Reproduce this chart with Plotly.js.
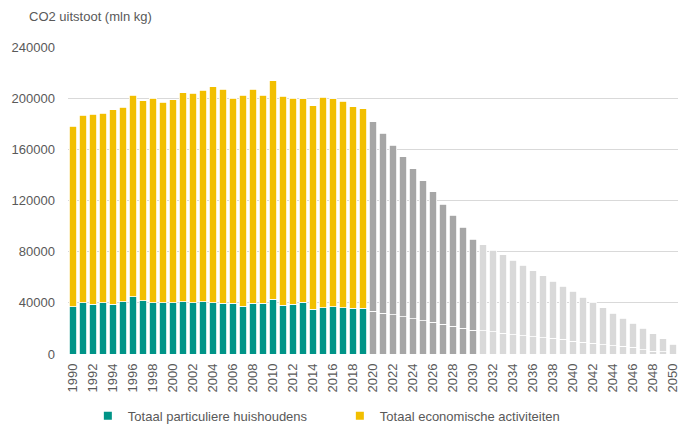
<!DOCTYPE html>
<html>
<head>
<meta charset="utf-8">
<script src="https://cdn.plot.ly/plotly-3.0.1.min.js"></script>
<style>html,body{margin:0;padding:0;background:#fff;}#chart{width:681px;height:427px;}</style>
</head>
<body>
<div id="chart"></div>
<script>
// Years 1990-2050
const years = [1990,1991,1992,1993,1994,1995,1996,1997,1998,1999,
  2000,2001,2002,2003,2004,2005,2006,2007,2008,2009,
  2010,2011,2012,2013,2014,2015,2016,2017,2018,2019,
  2020,2021,2022,2023,2024,2025,2026,2027,2028,2029,
  2030,2031,2032,2033,2034,2035,2036,2037,2038,2039,
  2040,2041,2042,2043,2044,2045,2046,2047,2048,2049,2050];

// Totaal particuliere huishoudens (mln kg CO2)
const households = [37000,40100,38800,40100,38800,40900,44800,41700,40100,40100,
  40100,40900,40100,40900,40100,39500,39500,37400,39500,39500,
  42900,38200,39000,40300,35100,36200,37000,36200,35600,35600,
  33500,32000,30700,29100,27600,26000,24700,23100,21800,20200,
  18700,18200,17400,16100,15000,14200,13500,12700,12400,11400,
  10000,9000,8500,7200,6400,5900,5100,3300,2200,1700,0];

// Totaal economische activiteiten (mln kg CO2)
const economic = [141000,146600,148700,148200,152100,151900,157600,156300,159900,156800,
  158600,163300,163600,165400,168800,167400,160500,165000,167400,162900,
  170700,163400,161000,159200,158900,164600,162500,161500,157600,156100,
  148000,140700,132600,125300,117400,109600,102000,94000,86600,78800,
  71000,67300,63900,61400,58200,55100,51600,48500,44600,41400,
  38900,35200,31600,29000,25500,21900,18800,16700,13600,10200,7700];

const seriesNames = ['Totaal particuliere huishoudens', 'Totaal economische activiteiten'];
const yTicks = [0,40000,80000,120000,160000,200000,240000];
const lastActual = 2019, lastMid = 2030;

const TEAL = '#009487', YELLOW = '#F2BF00', DARK = '#A6A6A6', LIGHT = '#D9D9D9';
function colorFor(base) {
  return years.map(y => y <= lastActual ? base : (y <= lastMid ? DARK : LIGHT));
}

const font = "'Liberation Sans', Arial, sans-serif";
const txt = '#595959';

const traces = [
  {type:'bar', x:years, y:households, name:seriesNames[0], showlegend:false,
   marker:{color:colorFor(TEAL), line:{color:'#ffffff', width:0.8}}, hoverinfo:'x+y'},
  {type:'bar', x:years, y:economic, name:seriesNames[1], showlegend:false,
   marker:{color:colorFor(YELLOW), line:{color:'#ffffff', width:0.8}}, hoverinfo:'x+y'},
  {type:'scatter', mode:'markers', x:[null], y:[null], name:seriesNames[0],
   marker:{symbol:'square', size:8, color:TEAL}},
  {type:'scatter', mode:'markers', x:[null], y:[null], name:seriesNames[1],
   marker:{symbol:'square', size:8, color:YELLOW}}
];

const layout = {
  width:681, height:427,
  margin:{l:68, r:3, t:47, b:73},
  paper_bgcolor:'#fff', plot_bgcolor:'#fff',
  barmode:'stack', bargap:0.22,
  font:{family:font, size:13, color:txt},
  xaxis:{type:'linear', range:[1989.5,2050.5], tick0:1990, dtick:2, tickangle:-90,
    showgrid:false, zeroline:false, showline:false, ticks:'', automargin:false,
    ticklabelstandoff:6, tickfont:{family:font, size:13, color:txt}},
  yaxis:{range:[0,240000], tickvals:yTicks, ticktext:yTicks.map(String), automargin:false,
    showgrid:true, gridcolor:'#D9D9D9', gridwidth:1, zeroline:false, showline:false,
    ticks:'', ticklabelstandoff:12, tickfont:{family:font, size:13, color:txt}},
  legend:{orientation:'h', traceorder:'normal', xref:'container', yref:'container',
    x:0.129, xanchor:'left', y:0.026, yanchor:'middle',
    font:{family:font, size:13, color:txt}, itemwidth:30,
    entrywidth:207, entrywidthmode:'pixels', bgcolor:'rgba(0,0,0,0)'},
  annotations:[{text:'CO2 uitstoot (mln kg)', xref:'paper', yref:'paper',
    x:-0.068, xanchor:'left', y:1.1, yanchor:'middle', showarrow:false,
    font:{family:font, size:13, color:txt}}]
};

Plotly.newPlot('chart', traces, layout, {displayModeBar:false, staticPlot:true});
</script>
</body>
</html>
